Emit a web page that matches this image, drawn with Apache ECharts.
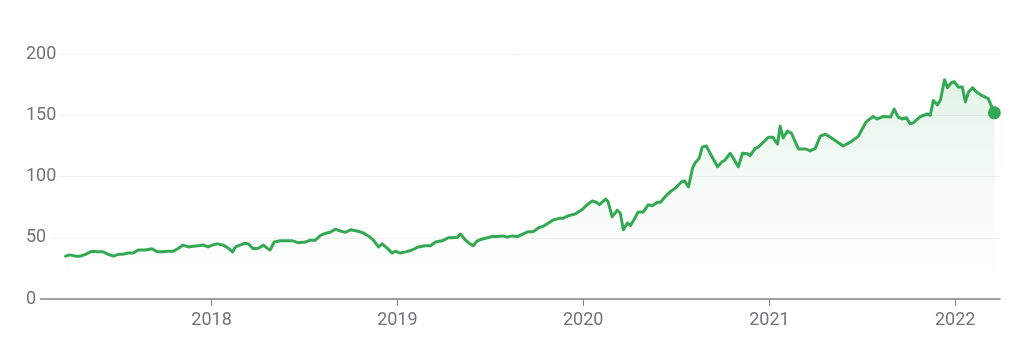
<!DOCTYPE html>
<html>
<head>
<meta charset="utf-8">
<script src="https://cdn.jsdelivr.net/npm/echarts@6/dist/echarts.min.js"></script>
<style>
html,body{margin:0;padding:0;background:#fff;}
#chart{width:1024px;height:355px;}
</style>
</head>
<body>
<div id="chart"></div>
<script>
const dates = [
'2017-03-20','2017-03-29','2017-04-08','2017-04-18','2017-04-28','2017-05-08','2017-05-14','2017-05-21','2017-06-02','2017-06-12',
'2017-06-22','2017-07-02','2017-07-11','2017-07-21','2017-07-31','2017-08-10','2017-08-24','2017-09-06','2017-09-16','2017-09-26',
'2017-10-08','2017-10-18','2017-10-28','2017-11-06','2017-11-16','2017-11-26','2017-12-06','2017-12-16','2017-12-25','2018-01-02',
'2018-01-12','2018-01-24','2018-02-03','2018-02-11','2018-02-17','2018-02-26','2018-03-08','2018-03-14','2018-03-24','2018-04-03',
'2018-04-13','2018-04-20','2018-04-26','2018-05-04','2018-05-16','2018-05-26','2018-06-09','2018-06-20','2018-07-04','2018-07-14',
'2018-07-24','2018-08-03','2018-08-12','2018-08-22','2018-09-01','2018-09-11','2018-09-21','2018-10-01','2018-10-14','2018-10-26',
'2018-11-05','2018-11-15','2018-11-25','2018-12-02','2018-12-12','2018-12-22','2018-12-28','2019-01-07','2019-01-17','2019-01-30',
'2019-02-11','2019-02-25','2019-03-07','2019-03-17','2019-03-30','2019-04-11','2019-04-19','2019-04-29','2019-05-05','2019-05-15',
'2019-05-24','2019-05-30','2019-06-07','2019-06-17','2019-06-27','2019-07-07','2019-07-16','2019-07-26','2019-08-05','2019-08-15',
'2019-08-25','2019-09-04','2019-09-15','2019-09-25','2019-10-05','2019-10-15','2019-10-25','2019-11-03','2019-11-17','2019-11-23',
'2019-12-03','2019-12-17','2019-12-30','2020-01-09','2020-01-19','2020-01-27','2020-02-02','2020-02-14','2020-02-19','2020-02-27',
'2020-03-08','2020-03-14','2020-03-20','2020-03-28','2020-04-03','2020-04-13','2020-04-18','2020-04-28','2020-05-08','2020-05-16',
'2020-05-26','2020-06-01','2020-06-10','2020-06-20','2020-06-30','2020-07-12','2020-07-18','2020-07-26','2020-08-03','2020-08-08',
'2020-08-16','2020-08-22','2020-08-30','2020-09-07','2020-09-17','2020-09-21','2020-09-30','2020-10-06','2020-10-16','2020-10-22',
'2020-11-01','2020-11-09','2020-11-19','2020-11-24','2020-12-04','2020-12-10','2020-12-20','2020-12-30','2021-01-08','2021-01-17',
'2021-01-22','2021-01-28','2021-02-05','2021-02-13','2021-02-21','2021-02-27','2021-03-13','2021-03-22','2021-04-01','2021-04-11',
'2021-04-21','2021-05-01','2021-05-15','2021-05-26','2021-06-09','2021-06-25','2021-07-09','2021-07-14','2021-07-24','2021-08-01',
'2021-08-13','2021-08-27','2021-09-03','2021-09-11','2021-09-19','2021-09-27','2021-10-05','2021-10-11','2021-10-25','2021-11-07',
'2021-11-13','2021-11-19','2021-11-27','2021-12-03','2021-12-11','2021-12-17','2021-12-24','2021-12-30','2022-01-07','2022-01-15',
'2022-01-21','2022-01-27','2022-02-04','2022-02-12','2022-02-23','2022-03-07','2022-03-19'
];
const prices = [
35,36,35,35,36.5,38.5,39,38.5,38.5,36.5,
35,36.5,36.5,37.5,37.5,40,40,41,38.5,38.5,
39,39,41.5,44,42.5,43,43.5,44,42.5,44,
45,44,41.5,38.5,42.5,44,45.5,45,41,41.5,
44,41.5,40,46.5,47.5,47.5,47.5,46,46.5,48,
48,52,53.5,54.5,57,55.5,54.5,56.5,55.5,54,
51.5,48,42.5,45,41.5,37.5,39,37.5,38.5,40,
42.5,43.5,43.5,46.5,47.5,50,50,50.5,53,48,
45,43.5,47.5,49,50,51,51,51.5,50.5,51.5,
51,53,55,55,58,59.5,62,64.5,66,66,
68,69.5,73,77,80,79,77,81.5,79.5,67,
72.5,70,56.5,62,60,67,71,71,77,76,
79,79,83.5,87.5,90.5,95.5,96.5,91.5,107,111,
115,124,125,118.5,111,108,112,113.5,119,115,
108,119,118.5,117,123,124,128,132,132,126.5,
141,131.5,137,135.5,128,122.5,122.5,121,123,133,
134.5,132,128,125,128,133,144,146,149,147,
149,148.5,155,148.5,147,148,143,144,149,151,
150,162,158.5,162.5,179,172.5,176.5,177.5,173,173,
161,169,172.5,169,166,163.5,152
];
// Axis ticks
const yTicks = [0, 50, 100, 150, 200];
const yearTicks = ['2018', '2019', '2020', '2021', '2022'];
const xRange = ['2017-01-23', '2022-03-30'];

const GREEN = '#34a853';
const toTime = s => { const p = s.split('-').map(Number); return new Date(p[0], p[1] - 1, p[2]).getTime(); };
const series = dates.map((d, i) => [toTime(d), prices[i]]);
const last = series[series.length - 1];
const yearValues = yearTicks.map(y => new Date(+y, 0, 1).getTime());

const chart = echarts.init(document.getElementById('chart'), null, {renderer: 'canvas'});
chart.setOption({
  animation: false,
  backgroundColor: '#ffffff',
  textStyle: {fontFamily: 'Roboto, "Noto Sans", sans-serif'},
  grid: {left: 37, right: 24, top: 54, bottom: 56, containLabel: false},
  xAxis: {
    type: 'value',
    min: toTime(xRange[0]),
    max: toTime(xRange[1]),
    axisLine: {show: true, onZero: false, lineStyle: {color: '#80868b', width: 1.5}},
    axisTick: {show: true, length: 7, lineStyle: {color: '#80868b', width: 1}, customValues: yearValues},
    axisLabel: {
      customValues: yearValues,
      formatter: v => String(new Date(v).getFullYear()),
      color: '#70757a', fontSize: 18, margin: 12, fontFamily: 'Roboto'
    },
    splitLine: {show: false}
  },
  yAxis: {
    type: 'value',
    min: yTicks[0],
    max: yTicks[yTicks.length - 1],
    interval: yTicks[1] - yTicks[0],
    axisLine: {show: false},
    axisTick: {show: false},
    axisLabel: {
      color: '#70757a', fontSize: 18, align: 'left', margin: 11,
      backgroundColor: '#ffffff', padding: [2, 4, 2, 0], fontFamily: 'Roboto'
    },
    splitLine: {show: true, lineStyle: {color: '#eef0f1', width: 1}}
  },
  series: [
    {
      type: 'line',
      data: series,
      showSymbol: false,
      symbol: 'none',
      smooth: false,
      lineStyle: {color: GREEN, width: 3, join: 'round', cap: 'round'},
      areaStyle: {
        color: new echarts.graphic.LinearGradient(0, 0, 0, 1, [
          {offset: 0, color: 'rgba(52,168,83,0.20)'},
          {offset: 0.5, color: 'rgba(52,168,83,0.06)'},
          {offset: 1, color: 'rgba(52,168,83,0.0)'}
        ])
      },
      z: 3
    },
    {
      type: 'scatter',
      data: [last],
      symbol: 'circle',
      symbolSize: 13,
      itemStyle: {color: GREEN, opacity: 1},
      z: 4
    }
  ]
});
</script>
</body>
</html>
